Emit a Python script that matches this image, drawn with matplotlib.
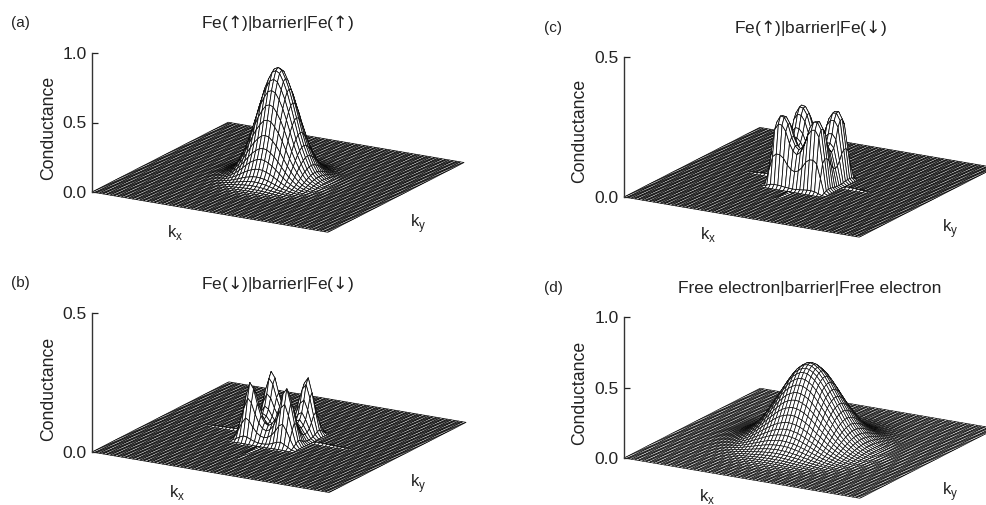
import numpy as np
import matplotlib
matplotlib.use("Agg")
import matplotlib.pyplot as plt
from mpl_toolkits.mplot3d import proj3d

plt.rcParams['font.family'] = ['Liberation Sans', 'DejaVu Sans']
plt.rcParams['mathtext.fontset'] = 'custom'
plt.rcParams['mathtext.rm'] = 'Liberation Sans'
plt.rcParams['mathtext.sf'] = 'DejaVu Sans'  # only for the arrows

W, H = 987, 505
CELLS = 32  # half of the mesh, in cells
INK = '#222222'

# conductance along one k axis, from k=0 outwards.
# the mesh is the product of the axis profile with itself, scaled to the peak
peak_a = 0.79
profile_a = [1.0, 0.98, 0.91, 0.82, 0.70, 0.57, 0.44, 0.33, 0.24, 0.16, 0.10,
             0.065, 0.04, 0.022, 0.012, 0.006, 0.003, 0.001]
peak_b = 0.205
profile_b = [0.30, 0.34, 0.45, 0.65, 0.90, 1.0, 0.75, 0.42, 0.12, 0.01]
peak_c = 0.245
profile_c = [0.55, 0.60, 0.72, 0.90, 0.99, 1.0, 0.90, 0.48, 0.05]
peak_d = 0.57
profile_d = [1.0, 0.99, 0.96, 0.92, 0.86, 0.79, 0.71, 0.63, 0.55, 0.47, 0.39,
             0.32, 0.26, 0.205, 0.16, 0.12, 0.09, 0.066, 0.048, 0.034, 0.024,
             0.016, 0.011, 0.007, 0.004, 0.003, 0.002, 0.001]

# faint ridge along the k axes outside the lobes, from cell 10 outwards
ridge_b = [0.005, 0.005, 0.004, 0.004, 0.003, 0.003, 0.002, 0.002, 0.001, 0.001]
ridge_c = [0.006, 0.005, 0.005, 0.004, 0.003, 0.002, 0.001]

titles = [r'Fe($\mathsf{↑}$)|barrier|Fe($\mathsf{↑}$)', r'Fe($\mathsf{↓}$)|barrier|Fe($\mathsf{↓}$)',
          r'Fe($\mathsf{↑}$)|barrier|Fe($\mathsf{↓}$)', 'Free electron|barrier|Free electron']
letters = ['(a)', '(b)', '(c)', '(d)']
z_tops = [1.0, 0.5, 0.5, 1.0]
z_ticks = [[0.0, 0.5, 1.0], [0.0, 0.5], [0.0, 0.5], [0.0, 0.5, 1.0]]
peaks = [peak_a, peak_b, peak_c, peak_d]
profiles = [profile_a, profile_b, profile_c, profile_d]
ridges = [[], ridge_b, ridge_c, []]
mesh_widths = [0.55, 0.55, 0.55, 0.48]

# pixel layout of each panel, c and d run past the right edge of the picture
origin = [(92, 192), (92, 452), (624, 197), (624, 458)]
axis_top = [53, 313, 57, 317]
far_corner = [(464, 162), (466, 422), (995, 167), (996, 428)]
title_xy = [(277, 23), (277, 284), (810, 28), (810, 288)]
letter_xy = [(20, 23), (20, 283), (553, 28), (553, 288)]
kx_xy = [(175, 232), (177, 493), (708, 235), (707, 497)]
ky_xy = [(418, 224), (418, 484), (950, 229), (950, 492)]
zlabel_xy = [(49, 128), (49, 389), (580, 131), (580, 393)]


def mesh_heights(profile, peak, ridge):
    half = np.zeros(CELLS + 1)
    half[:len(profile)] = profile
    line = np.concatenate([half[:0:-1], half])
    Z = peak * np.outer(line, line)
    for n, h in enumerate(ridge):
        for cell in (CELLS - 10 - n, CELLS + 10 + n):
            Z[cell, CELLS] += h
            Z[CELLS, cell] += h
    return Z


def to_px(ax, x, y, z):
    xs, ys, _ = proj3d.proj_transform(x, y, z, ax.get_proj())
    px = ax.transData.transform((xs, ys))
    return px[0], H - px[1]


def fig_text(xy, s, **kw):
    fig.text(xy[0] / W, 1 - xy[1] / H, s, ha='center', va='center', color=INK, **kw)


fig = plt.figure(figsize=(W / 100, H / 100), dpi=100)

for i in range(4):
    # big square axes so the plane is not clipped, it gets moved into place below
    ax = fig.add_axes([0, 0, 600 / W, 600 / H], projection='3d')
    ax.patch.set_alpha(0)
    k = np.arange(-CELLS, CELLS + 1)
    X, Y = np.meshgrid(k, k)
    Z = mesh_heights(profiles[i], peaks[i], ridges[i])
    ax.plot_surface(X, Y, Z, rstride=1, cstride=1, color='white', edgecolor='#0a0a0a',
                    linewidth=mesh_widths[i], shade=False, antialiased=True)
    ax.set_xlim(-CELLS, CELLS, view_margin=0)
    ax.set_ylim(-CELLS, CELLS, view_margin=0)
    ax.set_zlim(0, z_tops[i], view_margin=0)
    ax.view_init(elev=17.2, azim=-60)
    ax.set_proj_type('ortho')
    ax.set_axis_off()

    # fit the projected plane onto the pixel positions of the reference
    target_w = far_corner[i][0] - origin[i][0]
    target_h = origin[i][1] - axis_top[i]
    zoom, z_box = 1.0, 145.0
    for _ in range(4):
        ax.set_box_aspect((272, 272, z_box), zoom=zoom)
        ax.apply_aspect()
        x0, y0 = to_px(ax, -CELLS, -CELLS, 0)
        x1, y1 = to_px(ax, CELLS, CELLS, 0)
        _, yt = to_px(ax, -CELLS, -CELLS, z_tops[i])
        zoom *= target_w / (x1 - x0)
        z_box *= target_h / (y0 - yt) * (x1 - x0) / target_w
    ax.set_box_aspect((272, 272, z_box), zoom=zoom)
    ax.apply_aspect()
    x0, y0 = to_px(ax, -CELLS, -CELLS, 0)
    pos = ax.get_position()
    ax.set_position([pos.x0 + (origin[i][0] - x0) / W, pos.y0 - (origin[i][1] - y0) / H,
                     pos.width, pos.height])

    # the upright conductance axis
    z_ax = fig.add_axes([origin[i][0] / W, 1 - origin[i][1] / H, 0.02, target_h / H])
    z_ax.patch.set_alpha(0)
    z_ax.set_ylim(0, z_tops[i])
    z_ax.set_xticks([])
    z_ax.set_yticks(z_ticks[i], ['%.1f' % t for t in z_ticks[i]])
    z_ax.tick_params(axis='y', direction='in', length=4, width=0.9, labelsize=12.5,
                     colors=INK, pad=4)
    for side in ['top', 'right', 'bottom']:
        z_ax.spines[side].set_visible(False)
    z_ax.spines['left'].set_color('#333333')
    z_ax.spines['left'].set_linewidth(1.0)

    fig_text(zlabel_xy[i], 'Conductance', fontsize=12.7, rotation=90)
    fig_text(title_xy[i], titles[i], fontsize=12.5)
    fig_text(letter_xy[i], letters[i], fontsize=11)
    fig_text(kx_xy[i], r'k$_{\mathrm{x}}$', fontsize=12)
    fig_text(ky_xy[i], r'k$_{\mathrm{y}}$', fontsize=12)

fig.savefig('out.png', dpi=100)
